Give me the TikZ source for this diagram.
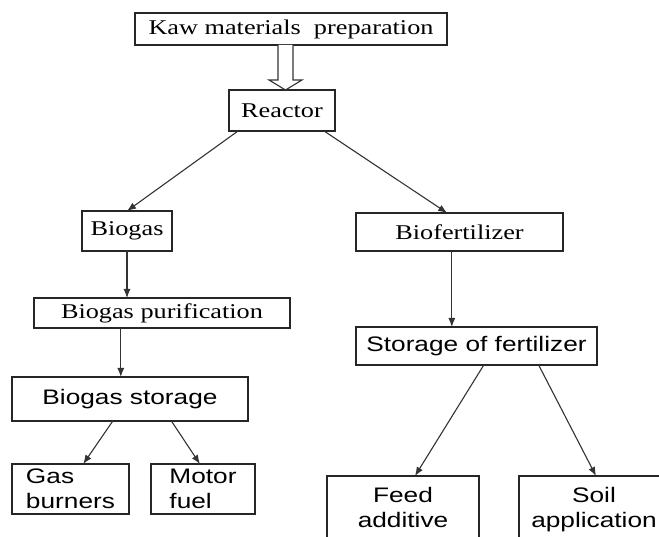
\documentclass[tikz,border=0pt]{standalone}
\usepackage{fontspec}
\newfontfamily\rmwide[FakeStretch=1.25]{Liberation Serif}
\newfontfamily\sfwide[FakeStretch=1.25]{Liberation Sans}
\usetikzlibrary{arrows.meta,calc,positioning}

\begin{document}
\begin{tikzpicture}[x=1pt,y=-1pt,
			>={Latex[length=9pt,width=7pt]},
			serif node/.style={rectangle, draw=black!85, line width=1.2pt, fill=white, align=center, inner sep=0pt, outer sep=0pt, font=\fontsize{21}{25}\selectfont\rmwide},
			sans node/.style={serif node, font=\fontsize{21}{25}\selectfont\sfwide},
			link/.style={->, line width=1.1pt, black!80}]
			\useasboundingbox (0,0) rectangle (659,537);
			\clip (0,0) rectangle (659,537);
			
			\node[serif node, minimum width=312pt, minimum height=32pt] (kaw) at (291,29) {Kaw materials~ preparation};
			\node[serif node, minimum width=106pt, minimum height=41pt] (reactor) at (282,110.5) {Reactor};
			\node[serif node, minimum width=90pt, minimum height=40pt] (biogas) at (127,231) {Biogas};
			\node[serif node, minimum width=256pt, minimum height=30pt] (purif) at (162,313) {Biogas purification};
			\node[sans node, minimum width=236pt, minimum height=44pt] (gstore) at (130,399) {Biogas storage};
			\node[sans node, align=left, minimum width=117pt, minimum height=50pt] (burners) at (70.5,489) {Gas\\burners};
			\node[sans node, align=left, minimum width=104pt, minimum height=50pt] (motor) at (203,489) {Motor\\fuel};
			\node[serif node, minimum width=207pt, minimum height=38pt] (biofert) at (459.5,232) {Biofertilizer};
			\node[sans node, minimum width=241pt, minimum height=38pt] (fstore) at (476.5,346) {Storage of fertilizer};
			\node[sans node, anchor=north, minimum width=152pt, inner ysep=11.5pt] (feed) at (403,476) {Feed\\additive};
			\node[sans node, anchor=north west, minimum width=150pt, inner ysep=11.5pt] (soil) at (519,476) {Soil\\application};
			
			% hollow arrow into the reactor
			\draw[line width=1.1pt, black!80, fill=white] ($(kaw.south)+(-13,0)$) -- ++(0,35) -- ++(-9,0) -- ($(kaw.south |- reactor.north)+(-5.5,0)$) -- ++(16.5,-10) -- ++(-9,0) -- ($(kaw.south)+(2,0)$);
			
			\path
			(reactor.205) edge [link] (biogas.north)
			(reactor.334.5) edge [link] (biofert.123)
			(biogas.south) edge [link] (biogas.south |- purif.north)
			(purif.200) edge [link] (purif.200 |- gstore.north)
			(gstore.232) edge [link] (burners.63)
			(gstore.332) edge [link] (motor.97)
			(biofert.248.5) edge [link] (biofert.248.5 |- fstore.north)
			(fstore.291.5) edge [link] ($(feed.north)+(12,0)$)
			(fstore.343.3) edge [link] ($(soil.north)+(2,0)$);
			
		\end{tikzpicture}
\end{document}
